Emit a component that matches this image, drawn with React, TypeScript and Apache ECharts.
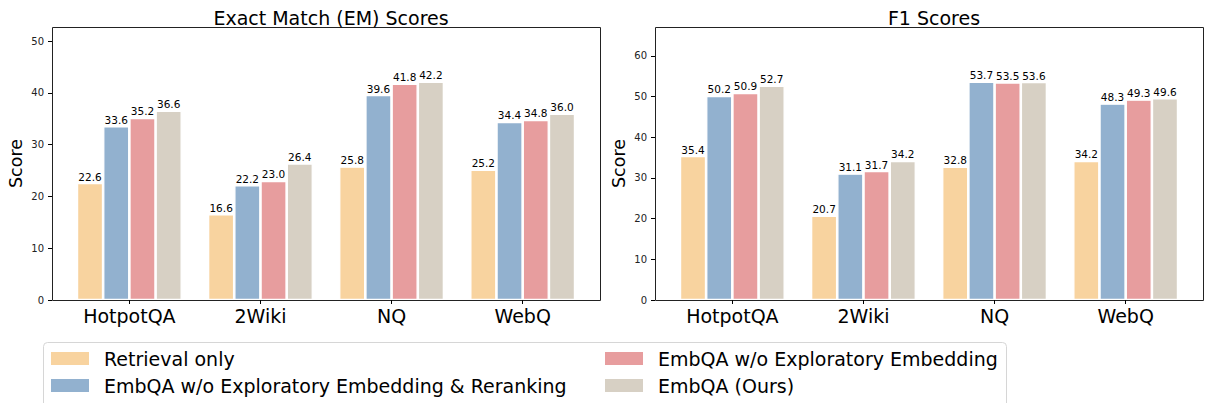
import React, { useEffect, useRef } from "react";
import * as echarts from "echarts";

const categories = ["HotpotQA", "2Wiki", "NQ", "WebQ"];
const seriesNames = [
  "Retrieval only",
  "EmbQA w/o Exploratory Embedding & Reranking",
  "EmbQA w/o Exploratory Embedding",
  "EmbQA (Ours)",
];
const colors = ["#F8D39F", "#92B1CF", "#E79D9E", "#D7D0C4"];

const emRetrieval = [22.6, 16.6, 25.8, 25.2];
const emNoEENoRR = [33.6, 22.2, 39.6, 34.4];
const emNoEE = [35.2, 23.0, 41.8, 34.8];
const emOurs = [36.6, 26.4, 42.2, 36.0];

const f1Retrieval = [35.4, 20.7, 32.8, 34.2];
const f1NoEENoRR = [50.2, 31.1, 53.7, 48.3];
const f1NoEE = [50.9, 31.7, 53.5, 49.3];
const f1Ours = [52.7, 34.2, 53.6, 49.6];

const emTicks = [0, 10, 20, 30, 40, 50];
const f1Ticks = [0, 10, 20, 30, 40, 50, 60];

const FONT = "DejaVu Sans";

export default function App() {
  const ref = useRef<HTMLDivElement>(null);
  useEffect(() => {
    document.body.style.margin = "0";
    const chart = echarts.init(ref.current!, null, { renderer: "svg" });
    const emData = [emRetrieval, emNoEENoRR, emNoEE, emOurs];
    const f1Data = [f1Retrieval, f1NoEENoRR, f1NoEE, f1Ours];
    const emMax = Math.max(...emData.flat()) * 1.25;
    const f1Max = Math.max(...f1Data.flat()) * 1.25;

    const frameL = [52, 655];
    const axW = 548;
    const pad = 11.8;
    const top = 27;
    const h = 273;

    const mkSeries = (data: number[][], idx: number) =>
      data.map((vals, i) => ({
        type: "bar",
        name: seriesNames[i],
        xAxisIndex: idx,
        yAxisIndex: idx,
        data: vals,
        barWidth: "20%",
        barGap: "0%",
        itemStyle: { color: colors[i], borderColor: "#fff", borderWidth: 1.3 },
        label: {
          show: true,
          position: "top",
          distance: 1,
          fontFamily: FONT,
          fontSize: 10.5,
          color: "#000",
          formatter: (p: any) => Number(p.value).toFixed(1),
        },
      }));

    const mkY = (idx: number, max: number, ticks: number[]) => ({
      type: "value",
      gridIndex: idx,
      min: 0,
      max,
      offset: pad,
      name: "Score",
      nameLocation: "middle",
      nameRotate: 90,
      nameGap: 27,
      nameTextStyle: { fontFamily: FONT, fontSize: 17.5, color: "#000" },
      axisLine: { show: false },
      axisTick: {
        show: true,
        length: 4,
        customValues: ticks,
        lineStyle: { color: "#000", width: 1 },
      },
      axisLabel: {
        customValues: ticks,
        fontFamily: FONT,
        fontSize: 10,
        color: "#222",
        margin: 8,
      },
      splitLine: { show: false },
    });

    const mkX = (idx: number) => ({
      type: "category",
      gridIndex: idx,
      data: categories,
      axisLine: { show: false },
      axisTick: {
        show: true,
        alignWithLabel: true,
        length: 4,
        lineStyle: { color: "#000" },
      },
      axisLabel: {
        fontFamily: FONT,
        fontSize: 19,
        color: "#000",
        margin: 6,
      },
    });

    const legendCommon = {
      orient: "vertical",
      icon: "rect",
      padding: 0,
      height: 60,
      itemWidth: 38,
      itemHeight: 13,
      itemGap: 8,
      itemStyle: { borderWidth: 0 },
      textStyle: {
        fontFamily: FONT,
        fontSize: 19,
        lineHeight: 19,
        color: "#000",
        padding: [0, 0, 0, 10],
      },
    };

    const titleStyle = { fontFamily: FONT, fontSize: 19, fontWeight: "normal", color: "#000" };

    chart.setOption({
      animation: false,
      title: [
        {
          text: "Exact Match (EM) Scores",
          left: frameL[0] + axW / 2,
          textAlign: "center",
          top: 3,
          textStyle: titleStyle,
        },
        {
          text: "F1 Scores",
          left: frameL[1] + axW / 2,
          textAlign: "center",
          top: 3,
          textStyle: titleStyle,
        },
      ],
      legend: [
        { ...legendCommon, data: [seriesNames[0], seriesNames[1]], left: 51, top: 349 },
        { ...legendCommon, data: [seriesNames[2], seriesNames[3]], left: 605, top: 349 },
      ],
      grid: [
        { left: frameL[0] + pad, top, width: axW - 2 * pad, height: h },
        { left: frameL[1] + pad, top, width: axW - 2 * pad, height: h },
      ],
      xAxis: [mkX(0), mkX(1)],
      yAxis: [mkY(0, emMax, emTicks), mkY(1, f1Max, f1Ticks)],
      series: [...mkSeries(emData, 0), ...mkSeries(f1Data, 1)],
      graphic: [
        {
          type: "rect",
          shape: { x: frameL[0] + 0.5, y: top + 0.5, width: axW, height: h },
          style: { fill: "none", stroke: "#222", lineWidth: 1 },
          silent: true,
        },
        {
          type: "rect",
          shape: { x: frameL[1] + 0.5, y: top + 0.5, width: axW, height: h },
          style: { fill: "none", stroke: "#222", lineWidth: 1 },
          silent: true,
        },
        {
          type: "rect",
          shape: { x: 43.5, y: 342.5, width: 963, height: 80, r: 4 },
          style: { fill: "rgba(255,255,255,0.8)", stroke: "#d6d6d6", lineWidth: 1 },
          silent: true,
          z: -1,
        },
      ],
    });
    return () => chart.dispose();
  }, []);
  return <div ref={ref} style={{ width: 1206, height: 403 }} />;
}
